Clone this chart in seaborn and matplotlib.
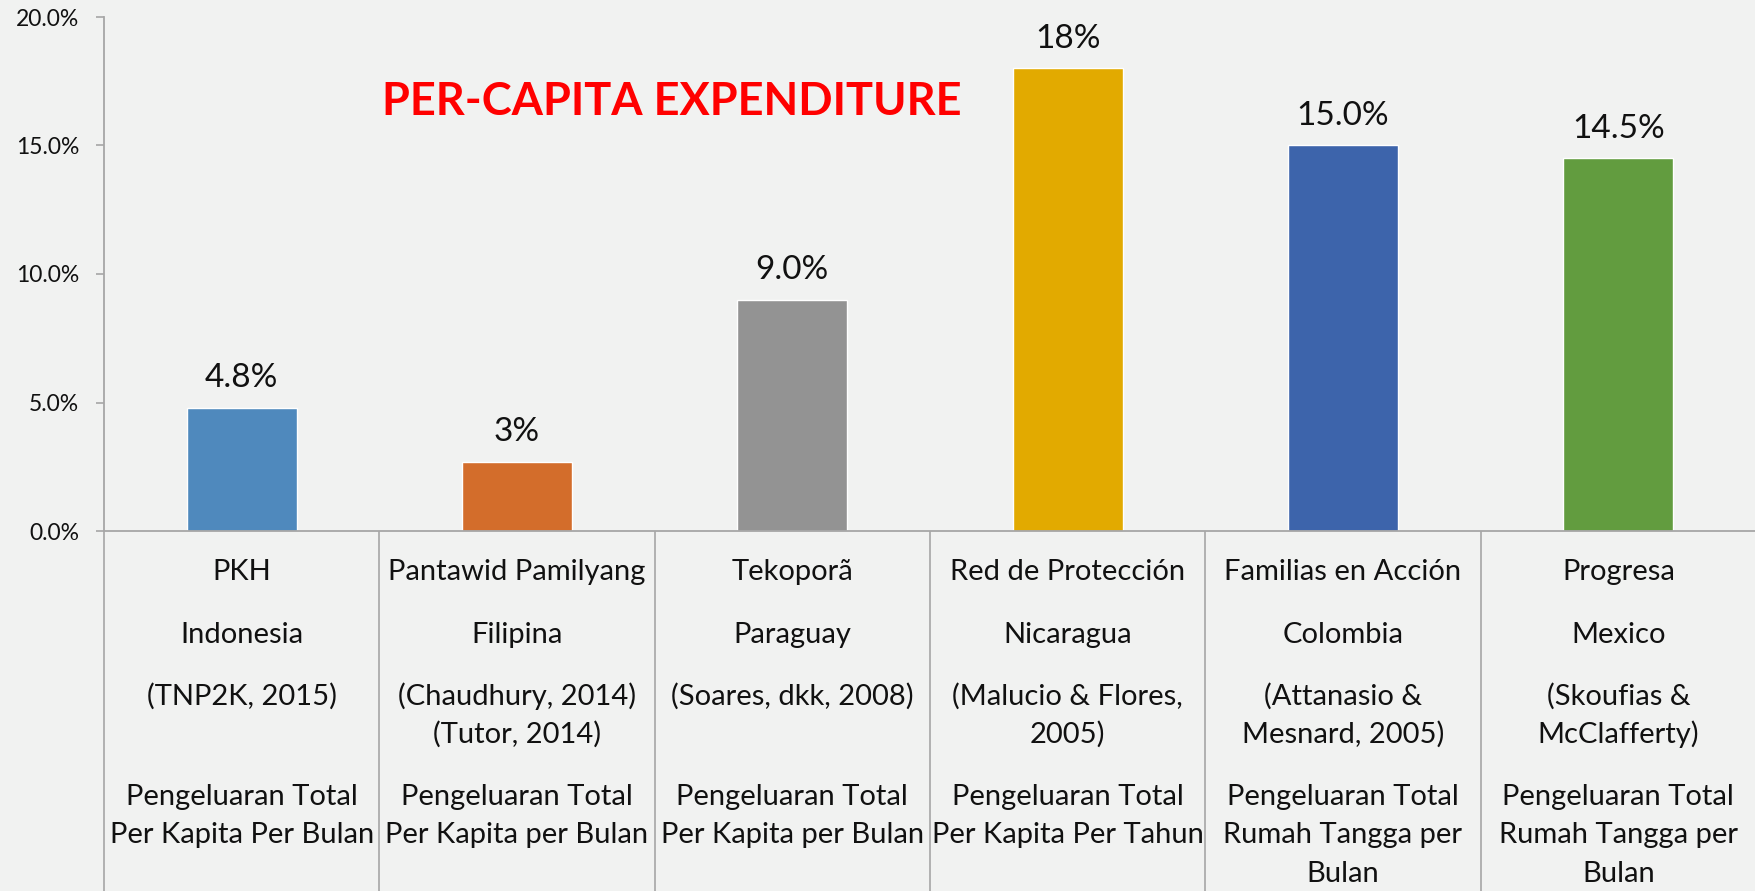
import matplotlib
matplotlib.use("Agg")
import numpy as np
import pandas as pd
import seaborn as sns
import matplotlib.pyplot as plt

# data
programs = ["PKH", "Pantawid Pamilyang", "Tekoporã", "Red de Protección",
            "Familias en Acción", "Progresa"]
countries = ["Indonesia", "Filipina", "Paraguay", "Nicaragua", "Colombia", "Mexico"]
sources = ["(TNP2K, 2015)", "(Chaudhury, 2014)\n(Tutor, 2014)", "(Soares, dkk, 2008)",
           "(Malucio & Flores,\n2005)", "(Attanasio &\nMesnard, 2005)",
           "(Skoufias &\nMcClafferty)"]
measures = ["Pengeluaran Total\nPer Kapita Per Bulan",
            "Pengeluaran Total\nPer Kapita per Bulan",
            "Pengeluaran Total\nPer Kapita per Bulan",
            "Pengeluaran Total\nPer Kapita Per Tahun",
            "Pengeluaran Total\nRumah Tangga per\nBulan",
            "Pengeluaran Total\nRumah Tangga per\nBulan"]
values = [4.8, 2.7, 9.0, 18.0, 15.0, 14.5]
value_labels = ["4.8%", "3%", "9.0%", "18%", "15.0%", "14.5%"]
colors = ["#4F89BD", "#D36D2B", "#939393", "#E2AA00", "#3D64AB", "#629C3F"]

W, H = 1756, 891
BG = "#F1F2F1"
GRID = "#A6A6A6"

sns.set_style("white")
plt.rcParams["font.family"] = ["Lato", "DejaVu Sans"]

df = pd.DataFrame({"program": programs, "value": values})

fig = plt.figure(figsize=(W / 100, H / 100), dpi=100)
fig.patch.set_facecolor(BG)

# chart area in pixel terms: x 104..1756, y 17..531
ax = fig.add_axes([104 / W, (H - 531) / H, (W - 104) / W, (531 - 17) / H])
ax.set_facecolor(BG)
sns.barplot(data=df, x="program", y="value", hue="program", palette=colors,
            width=0.4, saturation=1, legend=False, ax=ax)
ax.set_ylim(0, 20)
ax.set_yticks([0, 5, 10, 15, 20])
ax.set_yticklabels([f"{t:.1f}%" for t in [0, 5, 10, 15, 20]])
ax.set_xlabel("")
ax.set_ylabel("")
ax.tick_params(axis="x", bottom=False, labelbottom=False)
ax.tick_params(axis="y", left=True, length=6, width=1.2, color=GRID,
               pad=12, labelsize=16.5, labelcolor="#111111")
for side in ["top", "right"]:
    ax.spines[side].set_visible(False)
for side in ["left", "bottom"]:
    ax.spines[side].set_color(GRID)
    ax.spines[side].set_linewidth(1.3)

for i, (v, lab) in enumerate(zip(values, value_labels)):
    ax.annotate(lab, (i, v), xytext=(0, 15), textcoords="offset points",
                ha="center", va="baseline", fontsize=24, color="#111111")

fig.text(672 / W, 1 - 115 / H, "PER-CAPITA EXPENDITURE", ha="center",
         va="baseline", fontsize=32.5, fontweight="bold", color="#FF0000")

# table under the bars, y in image pixels
tab = fig.add_axes([104 / W, 0, (W - 104) / W, (H - 531) / H])
tab.set_facecolor("none")
tab.set_xlim(ax.get_xlim())
tab.set_ylim(H, 531)
tab.axis("off")
tab.vlines(np.arange(len(programs) + 1) - 0.5, 531, H, color=GRID, lw=1.2,
           clip_on=False)

rows = [(programs, 572), (countries, 635), (sources, 696), (measures, 797)]
for texts, y0 in rows:
    for i, t in enumerate(texts):
        for k, line in enumerate(t.split("\n")):
            tab.text(i, y0 + k * 38.5, line, ha="center", va="center",
                     fontsize=21, color="#111111")

fig.savefig("out.png", dpi=100, facecolor=BG)
